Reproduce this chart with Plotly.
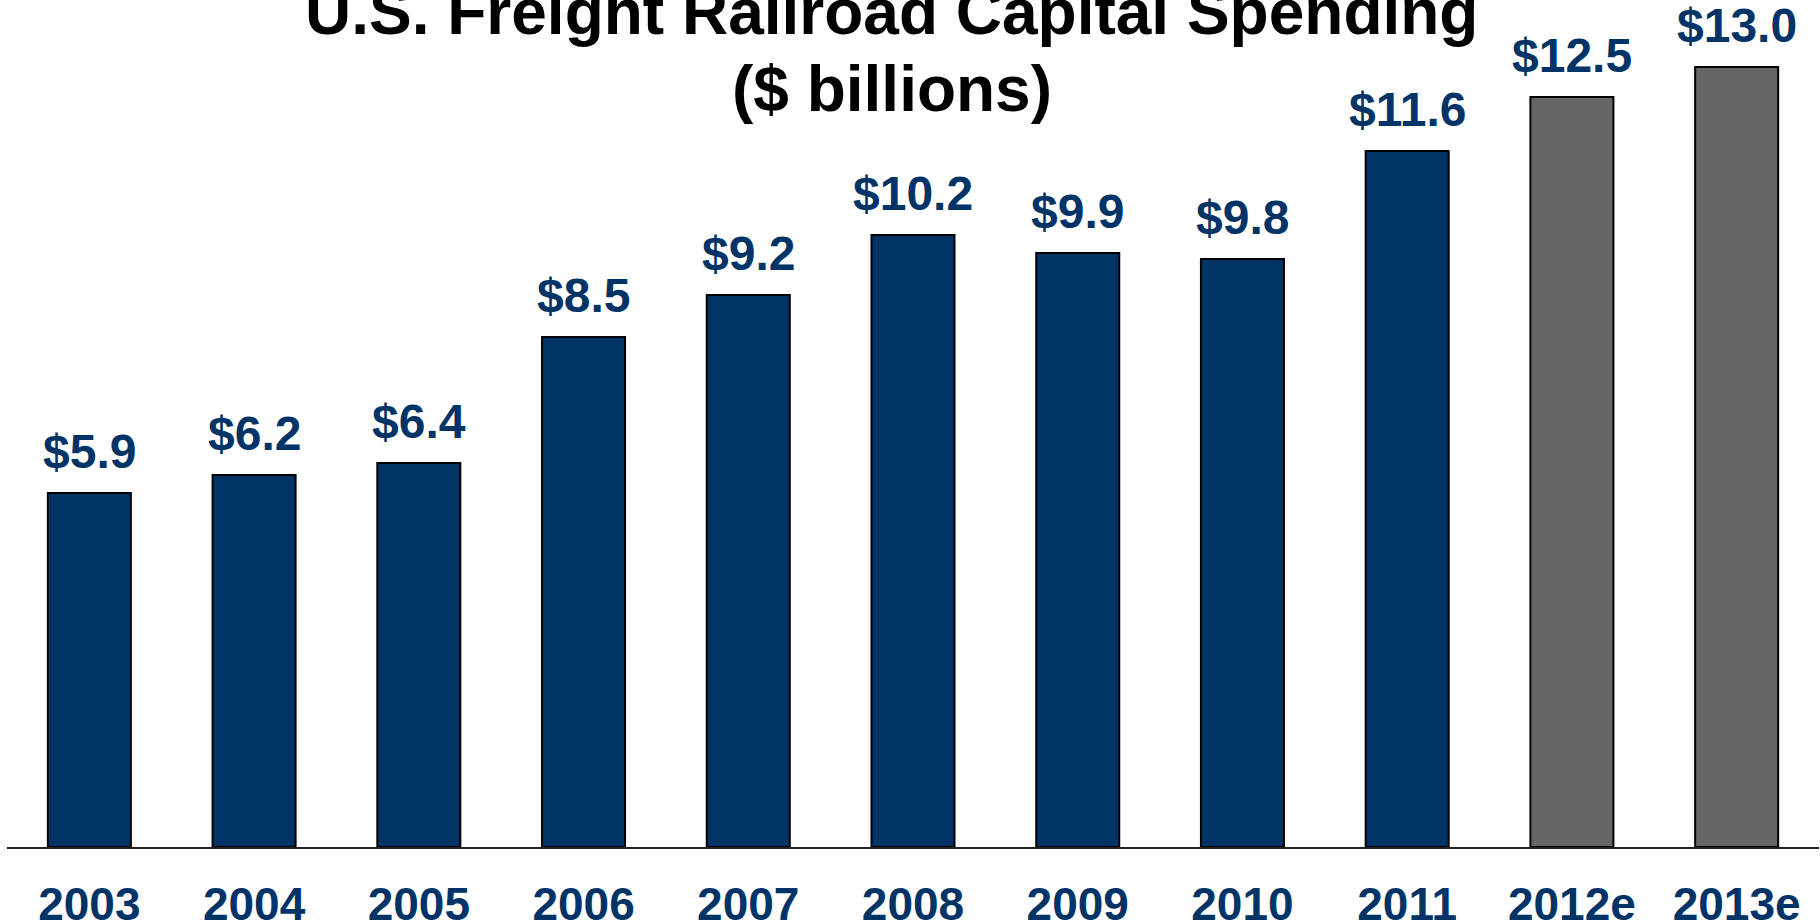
import plotly.graph_objects as go

# Capital spending by U.S. freight railroads, $ billions (2012/2013 are estimates)
years = ["2003", "2004", "2005", "2006", "2007", "2008", "2009", "2010", "2011", "2012e", "2013e"]
spending = [5.9, 6.2, 6.4, 8.5, 9.2, 10.2, 9.9, 9.8, 11.6, 12.5, 13.0]
is_estimate = [False] * 9 + [True, True]

NAVY = "#003366"
GRAY = "#666666"
FONT = "Liberation Sans, Arial, sans-serif"

bar_colors = [GRAY if est else NAVY for est in is_estimate]

fig = go.Figure(
    go.Bar(
        x=years,
        y=spending,
        marker=dict(color=bar_colors, line=dict(color="#000000", width=2)),
        hoverinfo="x+y",
    )
)

# value labels above each bar (category positions by index)
for i, val in enumerate(spending):
    fig.add_annotation(
        x=i, y=val, xref="x", yref="y",
        text=f"${val:.1f}",
        showarrow=False, yanchor="bottom", yshift=13,
        font=dict(family=FONT, size=48, color=NAVY, weight="bold"),
    )

# two-line chart title
title_lines = ["U.S. Freight Railroad Capital Spending", "($ billions)"]
title_y = [13.28, 12.0]
for line, ty in zip(title_lines, title_y):
    fig.add_annotation(
        x=0.4884, y=ty, xref="paper", yref="y",
        text=line, showarrow=False, yanchor="bottom", xanchor="center",
        font=dict(family=FONT, size=64, color="#000000", weight="bold"),
    )

fig.update_layout(
    width=1820, height=924,
    margin=dict(l=7, r=1, t=0, b=77),
    paper_bgcolor="white", plot_bgcolor="white",
    bargap=0.496,
    showlegend=False,
)
fig.update_xaxes(
    type="category", categoryorder="array", categoryarray=years,
    range=[-0.5, len(years) - 0.5],
    automargin=False,
    showline=True, linecolor="#222222", linewidth=2,
    showgrid=False, ticks="", zeroline=False,
    tickfont=dict(family=FONT, size=46, color=NAVY, weight="bold"),
    ticklabelstandoff=16,
)
fig.update_yaxes(
    range=[0, 847 / 60], visible=False, showgrid=False, zeroline=False,
    automargin=False,
)

fig.write_html("out.html")
